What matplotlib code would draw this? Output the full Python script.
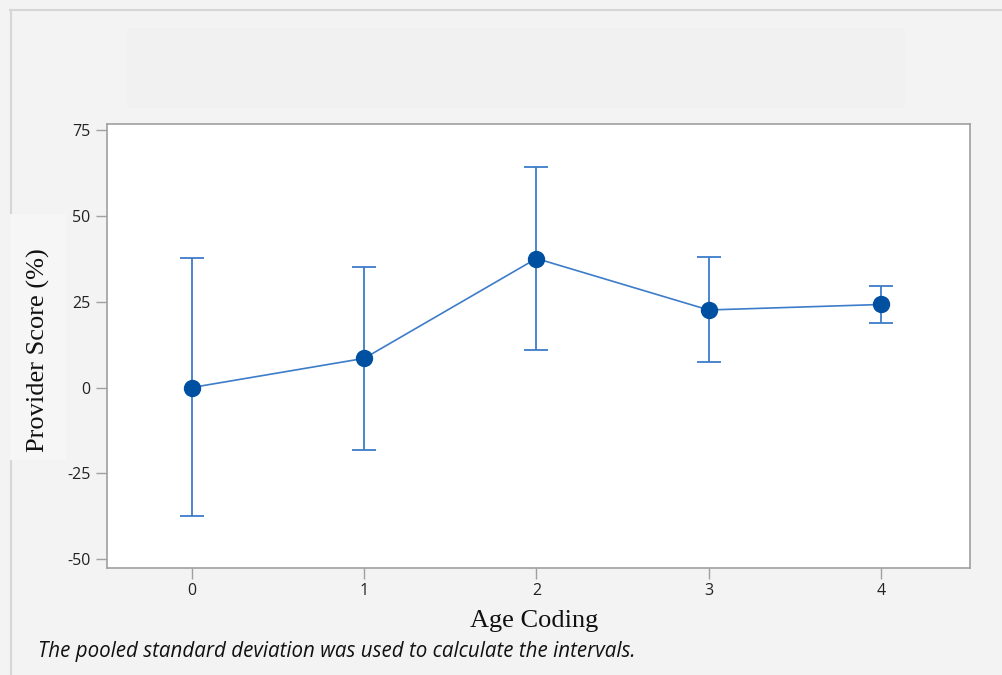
import matplotlib
matplotlib.use("Agg")
import matplotlib.pyplot as plt
from matplotlib.patches import Rectangle
from matplotlib.lines import Line2D

plt.rcParams["axes.unicode_minus"] = False

# Data
age_codes = [0, 1, 2, 3, 4]
means = [0.0, 8.5, 37.6, 22.6, 24.2]
lower = [-37.5, -18.2, 11.0, 7.3, 18.9]
upper = [37.7, 35.2, 64.2, 37.9, 29.5]
yticks = [-50, -25, 0, 25, 50, 75]
xlabel = "Age Coding"
ylabel = "Provider Score (%)"
footnote = "The pooled standard deviation was used to calculate the intervals."

W, H = 1003, 675
fig = plt.figure(figsize=(W / 100, H / 100), dpi=100)
fig.patch.set_facecolor("#f3f3f3")

def px(x0, y0, x1, y1):
    return [x0 / W, 1 - y1 / H, (x1 - x0) / W, (y1 - y0) / H]

# outer frame lines
fig.add_artist(Line2D([10 / W, 1], [1 - 9.5 / H, 1 - 9.5 / H], color="#d6d6d6", lw=1.5))
fig.add_artist(Line2D([10.5 / W, 10.5 / W], [0, 1 - 9.5 / H], color="#d6d6d6", lw=1.5))
# faint (blurred) title box
fig.add_artist(Rectangle((127 / W, 1 - 108 / H), (905 - 127) / W, (108 - 28) / H,
                         transform=fig.transFigure, facecolor="#f1f1f1",
                         edgecolor="none"))
# lighter box behind y label
fig.add_artist(Rectangle((10 / W, 1 - 460 / H), 56 / W, (460 - 214) / H,
                         transform=fig.transFigure, facecolor="#f6f6f6",
                         edgecolor="none", zorder=2))

ax = fig.add_axes(px(107, 124, 970, 568))
ax.set_facecolor("white")

err_lo = [m - l for m, l in zip(means, lower)]
err_hi = [u - m for m, u in zip(means, upper)]
ax.errorbar(age_codes, means, yerr=[err_lo, err_hi], fmt="none",
            ecolor="#3d7cc9", elinewidth=1.3, capsize=8.5, capthick=1.3, zorder=2)
ax.plot(age_codes, means, color="#3d7cc9", lw=1.2, zorder=3)
ax.plot(age_codes, means, "o", color="#0050a2", markersize=11.5, zorder=4)

ax.set_xlim(-0.493, 4.517)
ax.set_ylim(-52.6, 76.8)
ax.set_xticks(age_codes)
ax.set_yticks(yticks)

for s in ax.spines.values():
    s.set_color("#a0a0a0")
    s.set_linewidth(1.2)
ax.tick_params(axis="both", direction="out", length=8, width=1, color="#a0a0a0",
               labelsize=11.5, labelcolor="#222222")
for lab in ax.get_xticklabels() + ax.get_yticklabels():
    lab.set_family("Open Sans")
ax.tick_params(axis="y", pad=4)
ax.tick_params(axis="x", pad=3)

fig.text(534 / W, 1 - 621 / H, xlabel, ha="center", va="center",
         family="Liberation Serif", fontsize=19, color="#111111")
fig.text(38 / W, 1 - 350 / H, ylabel, ha="center", va="center", rotation=90,
         family="Liberation Serif", fontsize=19, color="#111111", zorder=3)
fig.text(38 / W, 1 - 652 / H, footnote, ha="left", va="center",
         family="Open Sans", style="italic", fontsize=14.8, color="#111111")

fig.savefig("out.png", dpi=100, facecolor=fig.get_facecolor())
